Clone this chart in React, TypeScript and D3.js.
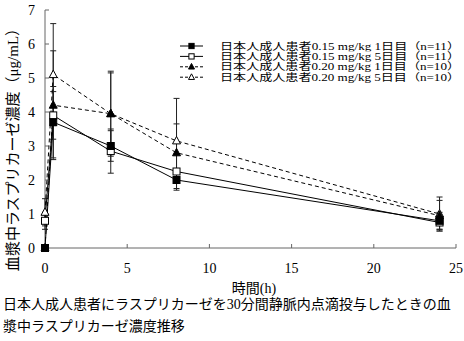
import React from "react";
import * as d3 from "d3";

const times = [0, 0.5, 4, 8, 24];
const seriesNames = [
  "日本人成人患者0.15 mg/kg 1日目（n=11）",
  "日本人成人患者0.15 mg/kg 5日目（n=11）",
  "日本人成人患者0.20 mg/kg 1日目（n=10）",
  "日本人成人患者0.20 mg/kg 5日目（n=10）",
];
const mean015d1 = [0, 3.7, 3.0, 2.0, 0.8];
const sd015d1 = [0, 1.05, 0.45, 0.3, 0.25];
const mean015d5 = [0.8, 3.9, 2.85, 2.25, 0.75];
const sd015d5 = [0.25, 0.7, 0.65, 0.5, 0.2];
const mean020d1 = [0, 4.2, 3.95, 2.8, 0.95];
const sd020d1 = [0, 1.6, 1.2, 0.85, 0.45];
const mean020d5 = [1.05, 5.1, 3.95, 3.15, 1.0];
const sd020d5 = [0.4, 1.5, 1.25, 1.25, 0.5];
const xTicks = [0, 5, 10, 15, 20, 25];
const yTicks = [0, 1, 2, 3, 4, 5, 6, 7];
const xLabel = "時間(h)";
const yLabel = "血漿中ラスプリカーゼ濃度（μg/mL）";
const caption = [
  "日本人成人患者にラスプリカーゼを30分間静脈内点滴投与したときの血",
  "漿中ラスプリカーゼ濃度推移",
];

const FONT = "'Liberation Serif', 'Noto Sans CJK JP', serif";

type Series = { name: string; mean: number[]; sd: number[]; marker: "square" | "triangle"; filled: boolean; dashed: boolean };

const series: Series[] = [
  { name: seriesNames[0], mean: mean015d1, sd: sd015d1, marker: "square", filled: true, dashed: false },
  { name: seriesNames[1], mean: mean015d5, sd: sd015d5, marker: "square", filled: false, dashed: false },
  { name: seriesNames[2], mean: mean020d1, sd: sd020d1, marker: "triangle", filled: true, dashed: true },
  { name: seriesNames[3], mean: mean020d5, sd: sd020d5, marker: "triangle", filled: false, dashed: true },
];

function Marker({ x, y, s, r = 1 }: { x: number; y: number; s: Series; r?: number }) {
  const fill = s.filled ? "#000" : "#fff";
  if (s.marker === "square") {
    const h = 3.5 * r;
    return <rect x={x - h} y={y - h} width={2 * h} height={2 * h} fill={fill} stroke="#000" strokeWidth={1} />;
  }
  const p = d3.path();
  p.moveTo(x, y - 4.5 * r);
  p.lineTo(x + 4 * r, y + 3 * r);
  p.lineTo(x - 4 * r, y + 3 * r);
  p.closePath();
  return <path d={p.toString()} fill={fill} stroke="#000" strokeWidth={1} />;
}

export default function App() {
  const x = d3.scaleLinear().domain([0, 25]).range([45, 456]);
  const y = d3.scaleLinear().domain([0, 7]).range([248, 10]);
  const line = d3
    .line<number>()
    .x((_, i) => x(times[i]))
    .y((d) => y(d));

  const legendY = [46, 56.4, 66.8, 77.2];

  return (
    <svg width={464} height={341} style={{ position: "absolute", left: 0, top: 0, background: "#fff" }} fontFamily={FONT}>
      {/* axes */}
      <line x1={x(0)} x2={x(0)} y1={y(0)} y2={y(7)} stroke="#666" strokeWidth={1} />
      <line x1={x(0)} x2={x(25)} y1={y(0)} y2={y(0)} stroke="#666" strokeWidth={1} />
      {yTicks.map((t) => (
        <g key={"y" + t}>
          <line x1={x(0)} x2={x(0) + 4} y1={y(t)} y2={y(t)} stroke="#666" />
          <text x={35} y={y(t) + 5} textAnchor="end" fontSize={14}>
            {t}
          </text>
        </g>
      ))}
      {xTicks.map((t) => (
        <g key={"x" + t}>
          <line x1={x(t)} x2={x(t)} y1={y(0)} y2={y(0) - 4} stroke="#666" />
          <text x={x(t)} y={273} textAnchor="middle" fontSize={14}>
            {t}
          </text>
        </g>
      ))}
      <text x={254} y={293} textAnchor="middle" fontSize={14}>
        {xLabel}
      </text>
      <text transform="translate(18,146) rotate(-90)" textAnchor="middle" fontSize={15}>
        {yLabel}
      </text>

      {/* error bars */}
      {series.map((s, si) => (
        <g key={"e" + si} stroke="#222" strokeWidth={1}>
          {s.mean.map((m, i) =>
            s.sd[i] > 0 ? (
              <g key={i}>
                <line x1={x(times[i])} x2={x(times[i])} y1={y(m - s.sd[i])} y2={y(m + s.sd[i])} />
                <line x1={x(times[i]) - 3} x2={x(times[i]) + 3} y1={y(m + s.sd[i])} y2={y(m + s.sd[i])} />
                <line x1={x(times[i]) - 3} x2={x(times[i]) + 3} y1={y(m - s.sd[i])} y2={y(m - s.sd[i])} />
              </g>
            ) : null
          )}
        </g>
      ))}

      {/* lines */}
      {series.map((s, si) => (
        <path
          key={"l" + si}
          d={line(s.mean) || ""}
          fill="none"
          stroke="#000"
          strokeWidth={1}
          strokeDasharray={s.dashed ? "4,3" : undefined}
        />
      ))}

      {/* markers */}
      {[3, 2, 1, 0].map((si) => (
        <g key={"m" + si}>
          {series[si].mean.map((m, i) => (
            <Marker key={i} x={x(times[i])} y={y(m)} s={series[si]} />
          ))}
        </g>
      ))}

      {/* legend */}
      {series.map((s, si) => (
        <g key={"lg" + si}>
          <rect x={177} y={legendY[si] - 5} width={285} height={10.4} fill="#fff" />
          <line
            x1={180}
            x2={203}
            y1={legendY[si]}
            y2={legendY[si]}
            stroke="#000"
            strokeDasharray={s.dashed ? "3,2" : undefined}
          />
          <Marker x={191.5} y={legendY[si]} s={s} r={0.75} />
          <text x={220} y={legendY[si] + 3.6} fontSize={10} textLength={240} lengthAdjust="spacingAndGlyphs">
            {s.name}
          </text>
        </g>
      ))}

      {/* caption */}
      {caption.map((c, i) => (
        <text key={"c" + i} x={3} y={309 + i * 22} fontSize={14}>
          {c}
        </text>
      ))}
    </svg>
  );
}
